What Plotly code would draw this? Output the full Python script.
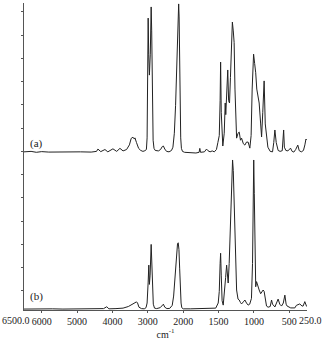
import plotly.graph_objects as go

# ---- data (wavenumber cm-1, absorbance offset units) ----
wn_a = [6500, 6300, 6150, 6000, 5800, 5500, 5200, 4900, 4600, 4450,
        4410, 4330, 4212, 4130, 3986, 3880, 3788, 3700,
        3600, 3520, 3470, 3420, 3380, 3364, 3320, 3260, 3200, 3138, 3082,
        3040, 3020, 3005, 2990, 2975, 2955, 2930, 2905, 2890, 2870, 2850, 2825, 2790,
        2700, 2640, 2590, 2560, 2520, 2470,
        2400, 2330, 2290, 2250, 2215, 2185, 2160, 2140, 2128, 2115, 2100, 2085, 2070, 2050, 2020,
        1980, 1900, 1820, 1775, 1765, 1755, 1700, 1670, 1650, 1620, 1590, 1560, 1530,
        1510, 1490, 1478, 1471, 1462, 1450, 1440,
        1420, 1406, 1398, 1386, 1370, 1358, 1345, 1332, 1316, 1305, 1292, 1280, 1268, 1255, 1245,
        1225, 1208, 1190, 1175, 1150, 1128, 1105, 1082, 1058, 1040, 1025, 1015, 1005,
        990, 975, 960, 940, 926, 905, 892, 875, 856, 840, 822, 803, 770, 751, 737,
        720, 704, 685, 658, 630, 600, 580, 570, 549, 520, 483, 460, 436, 410, 380, 360,
        330, 300, 280, 265, 255]
ab_a = [6.80, 6.82, 6.78, 6.81, 6.79, 6.80, 6.78, 6.80, 6.79, 6.82,
        6.92, 6.81, 6.90, 6.80, 6.93, 6.82, 6.95, 6.84,
        6.90, 7.10, 7.38, 7.43, 7.35, 7.40, 7.20, 6.95, 6.86, 6.82, 6.85,
        6.90, 7.40, 9.50, 12.55, 11.0, 10.1, 11.0, 13.03, 12.0, 9.0, 7.3, 6.95, 6.86,
        6.84, 6.90, 7.03, 7.05, 6.92, 6.82,
        6.80, 6.86, 7.00, 7.60, 8.80, 10.5, 12.2, 13.1, 13.16, 12.6, 10.5, 8.5, 7.4, 6.95, 6.82,
        6.78, 6.76, 6.75, 6.78, 6.95, 6.78, 6.80, 6.92, 6.85, 6.80, 6.84, 6.80, 6.90,
        7.20, 7.50, 9.00, 10.66, 8.50, 7.20, 7.05,
        7.60, 8.90, 8.40, 9.50, 10.32, 9.00, 8.90, 10.0, 12.0, 12.38, 12.0, 11.5, 9.5, 7.8, 7.39,
        7.60, 7.65, 7.30, 7.39, 7.15, 7.09, 7.22, 7.22, 6.96, 7.50, 9.50, 10.8, 11.0,
        10.6, 10.2, 9.5, 9.0, 8.9, 8.0, 7.44, 8.5, 9.85, 8.0, 7.39, 7.0, 6.82, 6.80, 6.80,
        7.20, 7.74, 7.20, 6.86, 6.82, 6.85, 7.74, 7.00, 6.86, 6.84, 6.96, 6.82, 6.79, 6.90, 7.09, 6.85,
        6.80, 6.86, 7.10, 7.35, 7.31]

wn_b = [6500, 6200, 6000, 5700, 5400, 5000, 4600, 4250, 4160, 4100, 3900, 3700, 3550, 3420,
        3320, 3290, 3250, 3180, 3100, 3050,
        3020, 2990, 2972, 2955, 2935, 2905, 2890, 2870, 2845, 2810, 2750, 2650, 2590, 2560,
        2520, 2460, 2380, 2310, 2270, 2230, 2195, 2160, 2140, 2120, 2100, 2080, 2060, 2040, 2000,
        1900, 1700, 1600, 1540, 1505, 1490, 1478, 1471, 1462, 1450, 1434,
        1420, 1400, 1386, 1375, 1364, 1350, 1335, 1320, 1310, 1302, 1292, 1280, 1269, 1255, 1245,
        1225, 1208, 1190, 1175, 1150, 1128, 1105, 1082, 1060, 1035, 1020, 1010, 1003, 995, 985,
        975, 963, 945, 926, 905, 892, 870, 856, 840, 822, 800, 770, 751, 737, 704, 680, 658,
        635, 610, 585, 563, 545, 531, 480, 450, 422, 400, 352, 320, 305, 281, 267, 255]
ab_b = [0.04, 0.05, 0.04, 0.05, 0.04, 0.05, 0.05, 0.06, 0.14, 0.05, 0.06, 0.08, 0.15, 0.25,
        0.35, 0.30, 0.12, 0.06, 0.05, 0.10,
        0.30, 1.20, 1.93, 1.10, 1.50, 2.82, 2.00, 0.80, 0.25, 0.08, 0.06, 0.10, 0.22, 0.25,
        0.12, 0.06, 0.07, 0.20, 0.60, 1.40, 2.30, 2.85, 2.89, 2.60, 1.80, 0.90, 0.30, 0.10, 0.05,
        0.05, 0.05, 0.06, 0.08, 0.30, 0.80, 2.00, 2.44, 1.50, 0.40, 0.21,
        0.60, 1.40, 1.93, 1.30, 1.16, 2.00, 3.50, 5.50, 6.30, 6.45, 6.00, 4.50, 2.58, 1.40, 0.86,
        0.47, 0.43, 0.32, 0.26, 0.35, 0.43, 0.30, 0.21, 0.25, 0.50, 2.00, 5.00, 6.45, 5.00, 2.00,
        1.00, 1.22, 1.00, 0.86, 0.70, 0.75, 0.86, 0.80, 0.50, 0.17, 0.12, 0.15, 0.43, 0.25, 0.13, 0.30, 0.47,
        0.25, 0.17, 0.30, 0.64, 0.25, 0.17, 0.09, 0.08, 0.09, 0.20, 0.26, 0.17, 0.17, 0.36, 0.17, 0.15]

# inner tick labels (drawn by the axis) and the two end labels (placed at the axis ends)
tick_wn = [6000, 5000, 4000, 3000, 2000, 1500, 1000, 500]
tick_text = ["6000", "5000", "4000", "3000", "2000", "1500", "1000", "500"]
first_label = "6500.0"
last_label = "250.0"


# axis scale: linear above 2000 cm-1, expanded x2 below 2000 cm-1
def scale(w):
    return (6500 - w) if w >= 2000 else 4500 + 2 * (2000 - w)


FONT = "Liberation Serif, Times New Roman, serif"
LINE = "#222222"
TXT = "#222222"
FS = 10

fig = go.Figure()
fig.add_trace(go.Scatter(x=[scale(w) for w in wn_a], y=ab_a, mode="lines",
                         line=dict(color=LINE, width=1), showlegend=False))
fig.add_trace(go.Scatter(x=[scale(w) for w in wn_b], y=ab_b, mode="lines",
                         line=dict(color=LINE, width=1), showlegend=False))

fig.add_annotation(x=scale(6160), y=7.18, text="(a)", showarrow=False,
                   xref="x", yref="y", font=dict(family=FONT, size=11, color=TXT))
fig.add_annotation(x=scale(6160), y=0.60, text="(b)", showarrow=False,
                   xref="x", yref="y", font=dict(family=FONT, size=11, color=TXT))
# end tick labels, nudged outward so they do not collide with neighbours
fig.add_annotation(x=0, y=0, xref="paper", yref="paper", xanchor="right", yanchor="top",
                   xshift=8, yshift=-3, text=first_label, showarrow=False,
                   font=dict(family=FONT, size=FS, color=TXT))
fig.add_annotation(x=1, y=0, xref="paper", yref="paper", xanchor="left", yanchor="top",
                   xshift=-10, yshift=-3, text=last_label, showarrow=False,
                   font=dict(family=FONT, size=FS, color=TXT))

fig.update_layout(
    width=323, height=341,
    margin=dict(l=24, r=16, t=3, b=31),
    paper_bgcolor="white", plot_bgcolor="white",
    font=dict(family=FONT, size=11, color=TXT),
    xaxis=dict(range=[0, 8000], tickvals=[scale(w) for w in tick_wn], ticktext=tick_text,
               tickangle=0,
               showline=True, linecolor="#555", linewidth=1, ticks="outside", ticklen=2,
               tickcolor="#555", showgrid=False, zeroline=False,
               tickfont=dict(family=FONT, size=FS, color=TXT),
               title=dict(text="cm<sup>-1</sup>", font=dict(family=FONT, size=10, color=TXT),
                          standoff=4),
               automargin=False),
    yaxis=dict(range=[0, 13.2], tickvals=[0.82 + k for k in range(13)], showticklabels=False,
               showline=True, linecolor="#555", linewidth=1, ticks="outside", ticklen=2,
               tickcolor="#555", showgrid=False, zeroline=False, automargin=False),
)

fig.write_html("out.html")
